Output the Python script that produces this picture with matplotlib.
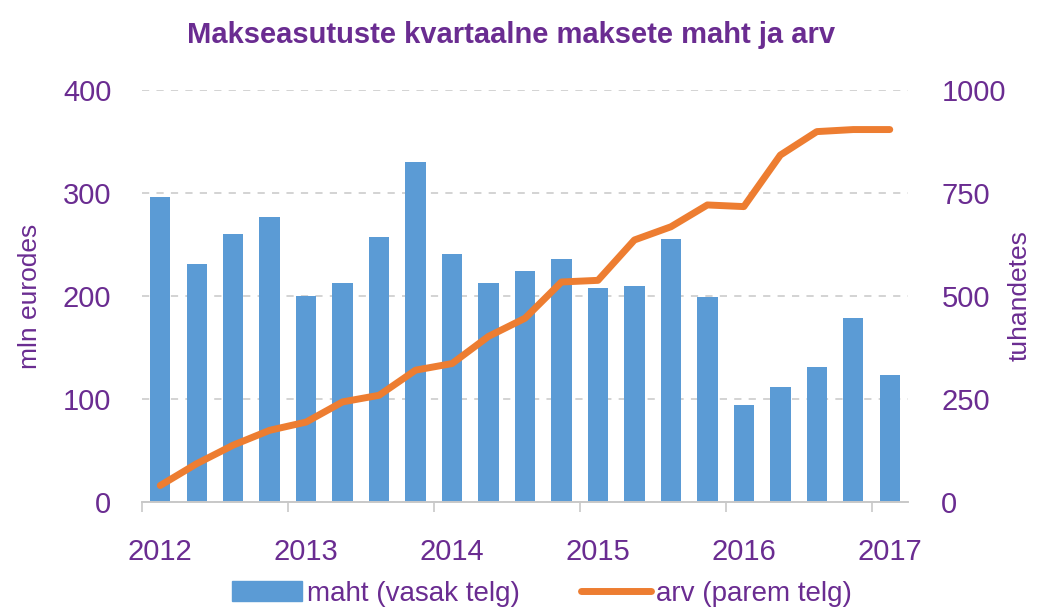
import numpy as np
import matplotlib.pyplot as plt
from matplotlib.patches import Patch
from matplotlib.lines import Line2D

plt.rcParams['font.family'] = ['Liberation Sans', 'DejaVu Sans']

# kvartalid 2012 Q1 .. 2017 Q1
years = ['2012', '2013', '2014', '2015', '2016', '2017']
maht = [296, 231, 260, 277, 200, 213, 257, 330, 241, 213, 224,
        236, 208, 210, 255, 199, 94, 112, 131, 179, 123]
arv = [40, 93, 138, 174, 194, 243, 259, 320, 336, 402, 446,
       534, 538, 636, 668, 721, 717, 842, 899, 904, 904]

purple = '#6A2C91'
blue = '#5B9BD5'
orange = '#ED7D31'

fig = plt.figure(figsize=(10.43, 6.12), dpi=100)
ax = fig.add_axes([142/1043, 1-502/612, (908-142)/1043, (502-90)/612])
ax2 = ax.twinx()

x = np.arange(len(maht))
ax.bar(x, maht, width=0.56, color=blue, zorder=2)
ax2.plot(x, arv, color=orange, lw=5, solid_capstyle='round', solid_joinstyle='round')

ax.set_xlim(-0.5, len(maht) - 0.5)
ax.set_ylim(0, 400)
ax2.set_ylim(0, 1000)
ax.set_yticks([0, 100, 200, 300, 400])
ax2.set_yticks([0, 250, 500, 750, 1000])
ax.yaxis.grid(True, color='#D0D0D0', ls=(0, (4, 4)), lw=1.3)
ax.set_axisbelow(True)

# year labels at Q1 bars, tick marks at category borders
ax.set_xticks(np.arange(0, len(maht), 4))
ax.set_xticklabels(years)
ax.set_xticks(np.arange(-0.5, len(maht), 4), minor=True)
ax.tick_params(axis='x', which='major', length=0, pad=26, labelsize=21, labelcolor=purple)
ax.tick_params(axis='x', which='minor', length=7, color='#C8C8C8', width=1.2)
ax.tick_params(axis='y', length=0, pad=22, labelsize=21, labelcolor=purple)
ax2.tick_params(axis='y', length=0, pad=24, labelsize=21, labelcolor=purple)

for a in (ax, ax2):
    for s in ['left', 'right', 'top']:
        a.spines[s].set_visible(False)
    a.spines['bottom'].set_color('#C8C8C8')
    a.spines['bottom'].set_linewidth(1.2)

ax.set_ylabel('mln eurodes', fontsize=19, color=purple)
ax.yaxis.set_label_coords(-0.13, 0.5)
ax2.set_ylabel('tuhandetes', fontsize=19, color=purple, rotation=90)
ax2.yaxis.set_label_coords(1.13, 0.5)

fig.suptitle('Makseasutuste kvartaalne maksete maht ja arv', fontsize=21, fontweight='bold',
             color=purple, x=0.49, y=0.965)

handles = [Patch(color=blue), Line2D([0], [0], color=orange, lw=5, solid_capstyle='round')]
fig.legend(handles, ['maht (vasak telg)', 'arv (parem telg)'], loc='lower center',
           bbox_to_anchor=(0.52, -0.032), ncol=2, frameon=False, fontsize=20,
           labelcolor=purple, handlelength=2.5, handletextpad=0.2, columnspacing=2.2)

fig.savefig('out.png', dpi=100)
